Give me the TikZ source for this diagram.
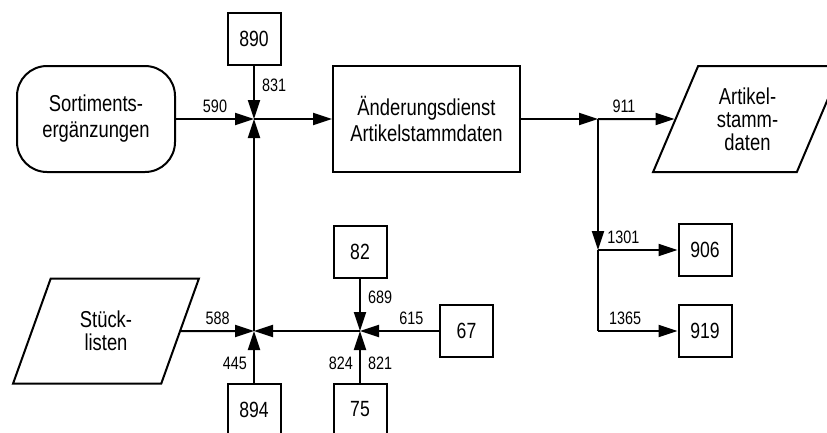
\documentclass[tikz,border=0pt]{standalone}
\usepackage{fontspec}
\setmainfont{Liberation Sans}[FakeStretch=0.8]
\usetikzlibrary{arrows.meta,shapes.geometric}
\tikzset{
  prozess/.style={draw,line width=2pt,align=center,inner sep=0pt,font=\fontsize{23}{26}\selectfont},
  nummer/.style={draw,line width=2pt,inner sep=0pt,minimum width=53pt,minimum height=52pt,font=\fontsize{22}{26}\selectfont},
  datei/.style={draw,line width=2pt,align=center,inner sep=0pt,trapezium,trapezium left angle=66,trapezium right angle=114,trapezium stretches=true,font=\fontsize{23}{23}\selectfont},
  fluss/.style={line width=2pt,-{Triangle[length=19pt,width=12pt]}},
  marke/.style={font=\fontsize{18}{20}\selectfont,inner sep=2pt},
}
\begin{document}
\begin{tikzpicture}[x=1pt,y=-1pt]
\useasboundingbox (0,0) rectangle (827,432);
% Knoten
\node [prozess,rounded corners=30pt,minimum width=158pt,minimum height=106pt] (sort) at (96,119) {Sortiments-\\ergänzungen};
\node [prozess,minimum width=187pt,minimum height=106pt] (aend) at (426.5,119) {Änderungsdienst\\Artikelstammdaten};
\node [datei,minimum width=186pt,minimum height=105pt] (stueck) at (106,331) {Stück-\\listen};
\node [datei,minimum width=189pt,minimum height=106pt] (art) at (747.5,119) {Artikel-\\stamm-\\daten};
\node [nummer] (b890) at (254,39) {890};
\node [nummer] (b894) at (254,409.5) {894};
\node [nummer] (b82) at (360,251.5) {82};
\node [nummer] (b75) at (360,409.5) {75};
\node [nummer] (b67) at (466.5,331) {67};
\node [nummer] (b906) at (705,250) {906};
\node [nummer] (b919) at (705,331) {919};
% Verzweigungen
\coordinate (j1) at (254,119);
\coordinate (j2) at (254,331);
\coordinate (j3) at (360,331);
\coordinate (j4) at (598,119);
\coordinate (j5) at (598,250);
\coordinate (j6) at (598,331);
% Fluesse
\draw [fluss] (sort) -- node[marke,above=3pt,pos=0.5]{590} (j1);
\draw [fluss] (b890) -- node[marke,right=5pt,pos=0.37]{831} (j1);
\draw [fluss] (j2) -- (j1);
\draw [fluss] (j1) -- (aend);
\draw [fluss] (stueck) -- node[marke,above=3pt,pos=0.5]{588} (j2);
\draw [fluss] (b894) -- node[marke,left=4pt,pos=0.37]{445} (j2);
\draw [fluss] (j3) -- (j2);
\draw [fluss] (b82) -- node[marke,right=5pt,pos=0.36]{689} (j3);
\draw [fluss] (b67) -- node[marke,above=3pt,pos=0.35]{615} (j3);
\draw [fluss] (b75) -- node[marke,left=4pt,pos=0.37]{824} node[marke,right=5pt,pos=0.37]{821} (j3);
\draw [fluss] (aend) -- (j4);
\draw [fluss] (j4) -- node[marke,above=3pt,pos=0.34]{911} (art);
\draw [fluss] (j4) -- (j5);
\draw [line width=2pt] (j5) -- (j6);
\draw [fluss] (j5) -- node[marke,above=3pt,pos=0.32]{1301} (b906);
\draw [fluss] (j6) -- node[marke,above=3pt,pos=0.34]{1365} (b919);
\end{tikzpicture}
\end{document}
